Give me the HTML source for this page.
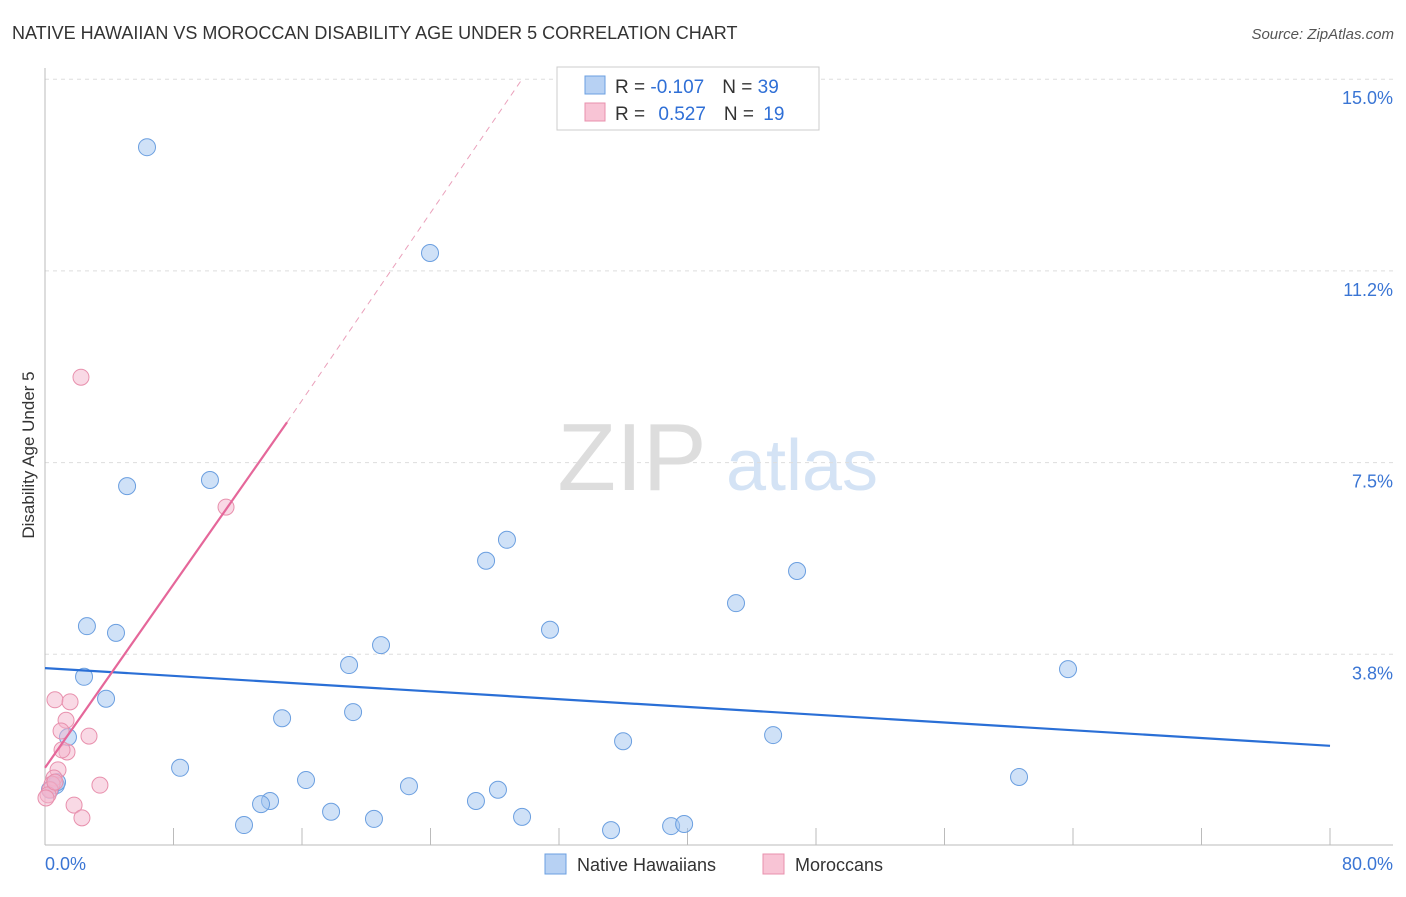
<!DOCTYPE html>
<html><head><meta charset="utf-8"><style>
body{margin:0;background:#fff;font-family:"Liberation Sans",sans-serif;}
svg text{font-family:"Liberation Sans",sans-serif;}
</style></head><body>
<svg id="chart" width="1406" height="892" xmlns="http://www.w3.org/2000/svg">
<text x="12" y="39" font-size="18" fill="#333">NATIVE HAWAIIAN VS MOROCCAN DISABILITY AGE UNDER 5 CORRELATION CHART</text>
<text x="1394" y="39" font-size="15" fill="#555" font-style="italic" text-anchor="end">Source: ZipAtlas.com</text>
<g>
<text x="632" y="490" font-size="96" fill="#ddd" font-family="Liberation Serif" text-anchor="middle">ZIP</text>
<text x="802" y="490" font-size="72" fill="#d4e3f5" text-anchor="middle">atlas</text>
</g>
<g id="grid"></g>
<g id="axes"></g>
<g id="marks"></g>
<text transform="translate(34,455) rotate(-90)" font-size="17" fill="#333" text-anchor="middle">Disability Age Under 5</text>
<g>
<rect x="557" y="67" width="262" height="63" fill="#fff" stroke="#ccc"/>
<rect x="585" y="76" width="20" height="18" fill="#b7d1f3" stroke="#6b9fe0"/>
<rect x="585" y="103" width="20" height="18" fill="#f8c4d5" stroke="#e890ad"/>
<text x="615" y="93" font-size="19" fill="#333">R = <tspan fill="#2f6fd6">-0.107</tspan><tspan dx="18">N = </tspan><tspan fill="#2f6fd6">39</tspan></text>
<text x="615" y="120" font-size="19" fill="#333">R = <tspan fill="#2f6fd6" dx="8">0.527</tspan><tspan dx="18">N = </tspan><tspan fill="#2f6fd6" dx="4">19</tspan></text>
</g>
<g>
<rect x="545" y="854" width="21" height="20" fill="#b7d1f3" stroke="#6b9fe0"/>
<text x="577" y="871" font-size="18" fill="#333">Native Hawaiians</text>
<rect x="763" y="854" width="21" height="20" fill="#f8c4d5" stroke="#e890ad"/>
<text x="795" y="871" font-size="18" fill="#333">Moroccans</text>
</g>
</svg>
<script>
const yTicks=[3.75,7.5,11.25,15];
const yTickLabels=["3.8%","7.5%","11.2%","15.0%"];
const xTickLabels=["0.0%","80.0%"];
const blueX=[6.35,23.97,5.11,10.27,28.76,27.46,46.82,43.02,2.61,4.42,31.44,20.92,18.93,63.69,2.43,3.80,14.76,19.18,35.99,45.33,1.43,8.41,16.25,60.64,22.66,28.20,0.68,14.01,13.45,26.83,17.81,29.70,20.48,12.39,35.24,38.98,39.79,0.75,0.31];
const blueY=[13.67,11.60,7.04,7.16,5.99,5.58,5.38,4.75,4.30,4.17,4.23,3.93,3.54,3.46,3.31,2.88,2.50,2.62,2.05,2.17,2.13,1.53,1.29,1.35,1.17,1.10,1.19,0.88,0.82,0.88,0.67,0.57,0.53,0.41,0.31,0.39,0.43,1.25,1.10];
const pinkX=[2.24,11.27,0.62,1.56,1.31,2.74,1.00,1.37,1.06,0.81,3.42,0.56,0.44,0.31,0.19,1.81,2.30,0.06,0.62];
const pinkY=[9.17,6.63,2.86,2.82,2.46,2.15,2.25,1.84,1.88,1.49,1.19,1.33,1.21,1.10,1.00,0.80,0.55,0.94,1.25];
const blueTrend=[[0,3.48],[80,1.96]];
const pinkTrend=[[0,1.53],[15.07,8.29]];
const pinkDash=[[15.07,8.29],[29.7,15.0]];
const NS="http://www.w3.org/2000/svg";
const sx=v=>45+v/80*1285, sy=v=>846-v/3.75*191.7;
function mk(tag,attrs,parent){const e=document.createElementNS(NS,tag);for(const k in attrs)e.setAttribute(k,attrs[k]);document.getElementById(parent).appendChild(e);return e;}
yTicks.forEach((t,i)=>{
 const l=mk('line',{x1:45,x2:1393,y1:sy(t),y2:sy(t),stroke:'#ddd','stroke-dasharray':'4,4'},'grid');
 
 
 const tx=mk('text',{x:1393,y:sy(t)+25,'font-size':18,fill:'#3a75d4','text-anchor':'end'},'axes');
 tx.textContent=yTickLabels[i];
 
 
});
let a=mk('line',{x1:45,x2:45,y1:68,y2:845,stroke:'#bbb'},'axes');


a=mk('line',{x1:45,x2:1393,y1:845,y2:845,stroke:'#bbb'},'axes');


for(let i=0;i<=10;i++){const t=mk('line',{x1:sx(i*8),x2:sx(i*8),y1:828,y2:845,stroke:'#bbb'},'axes');
 
 }
[[0,'start',45],[1,'end',1393]].forEach(([i,anc,x])=>{const t=mk('text',{x:x,y:870,'font-size':18,fill:'#3a75d4','text-anchor':anc},'axes');t.textContent=xTickLabels[i];
 
 });
blueX.forEach((x,i)=>{const c=mk('circle',{cx:sx(x),cy:sy(blueY[i]),r:8.5,fill:'rgba(160,195,240,0.5)',stroke:'#6b9fe0','stroke-width':1},'marks');
 
 });
pinkX.forEach((x,i)=>{const c=mk('circle',{cx:sx(x),cy:sy(pinkY[i]),r:8,fill:'rgba(244,180,204,0.5)',stroke:'#e890ad','stroke-width':1},'marks');
 
 });
let L=mk('line',{x1:sx(blueTrend[0][0]),y1:sy(blueTrend[0][1]),x2:sx(blueTrend[1][0]),y2:sy(blueTrend[1][1]),stroke:'#2a6fd6','stroke-width':2.2},'marks');


L=mk('line',{x1:sx(pinkTrend[0][0]),y1:sy(pinkTrend[0][1]),x2:sx(pinkTrend[1][0]),y2:sy(pinkTrend[1][1]),stroke:'#e5679a','stroke-width':2.2},'marks');


L=mk('line',{x1:sx(pinkDash[0][0]),y1:sy(pinkDash[0][1]),x2:sx(pinkDash[1][0]),y2:sy(pinkDash[1][1]),stroke:'#eaa0bb','stroke-width':1,'stroke-dasharray':'6,5'},'marks');


</script>
</body></html>
